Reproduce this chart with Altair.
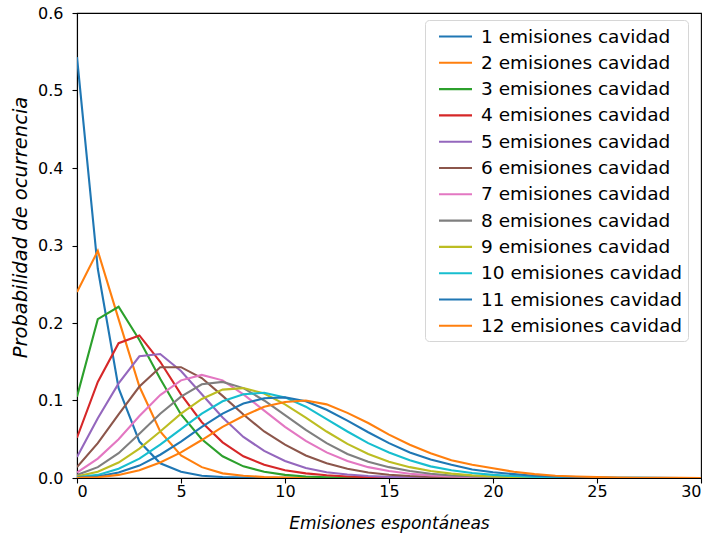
import altair as alt
import pandas as pd

# Number of spontaneous emissions (x axis)
emisiones = list(range(31))

# Probability of each count, one list per number of cavity emissions
p01 = [0.543, 0.27, 0.116, 0.047, 0.019, 0.008, 0.003, 0.0012, 0.0005, 0.0002, 0.0001] + [0.0] * 20
p02 = [0.24, 0.293, 0.205, 0.118, 0.06, 0.029, 0.014, 0.006, 0.003, 0.0012, 0.0005, 0.0002, 0.0001] + [0.0] * 18
p03 = [0.105, 0.205, 0.221, 0.178, 0.128, 0.082, 0.05, 0.028, 0.015, 0.008, 0.004, 0.002, 0.001, 0.0005, 0.0002] + [0.0] * 16
p04 = [0.052, 0.124, 0.174, 0.184, 0.15, 0.108, 0.072, 0.046, 0.028, 0.017, 0.01, 0.006, 0.0035, 0.002, 0.001,
       0.0005, 0.0003, 0.0001] + [0.0] * 13
p05 = [0.027, 0.077, 0.122, 0.157, 0.16, 0.138, 0.108, 0.078, 0.053, 0.035, 0.022, 0.013, 0.0075, 0.0045, 0.0025,
       0.0014, 0.0008, 0.0004, 0.0002, 0.0001] + [0.0] * 11
p06 = [0.014, 0.045, 0.082, 0.118, 0.143, 0.143, 0.129, 0.106, 0.082, 0.06, 0.043, 0.029, 0.019, 0.012, 0.007,
       0.0042, 0.0025, 0.0015, 0.0009, 0.0005, 0.0003, 0.0002, 0.0001] + [0.0] * 8
p07 = [0.007, 0.025, 0.05, 0.08, 0.107, 0.126, 0.133, 0.126, 0.108, 0.087, 0.066, 0.048, 0.033, 0.022, 0.014,
       0.009, 0.0055, 0.0034, 0.002, 0.0012, 0.0007, 0.0004, 0.0002, 0.0001, 0.0] + [0.0] * 6
p08 = [0.004, 0.014, 0.032, 0.057, 0.083, 0.105, 0.121, 0.124, 0.116, 0.1, 0.081, 0.062, 0.045, 0.031, 0.021,
       0.014, 0.009, 0.0055, 0.0033, 0.002, 0.0012, 0.0007, 0.0004, 0.0002, 0.0001] + [0.0] * 6
p09 = [0.002, 0.008, 0.02, 0.038, 0.06, 0.083, 0.102, 0.114, 0.116, 0.109, 0.095, 0.078, 0.06, 0.044, 0.031,
       0.021, 0.014, 0.009, 0.0056, 0.0034, 0.002, 0.0012, 0.0007, 0.0004, 0.0002, 0.0001] + [0.0] * 5
p10 = [0.001, 0.004, 0.012, 0.025, 0.043, 0.063, 0.083, 0.099, 0.108, 0.11, 0.104, 0.092, 0.076, 0.06, 0.045,
       0.033, 0.023, 0.015, 0.01, 0.0065, 0.004, 0.0025, 0.0015, 0.0009, 0.0005, 0.0003, 0.0002, 0.0001] + [0.0] * 3
p11 = [0.0005, 0.002, 0.007, 0.016, 0.03, 0.047, 0.066, 0.083, 0.096, 0.103, 0.104, 0.099, 0.088, 0.074, 0.059,
       0.045, 0.033, 0.024, 0.017, 0.011, 0.0075, 0.005, 0.003, 0.002, 0.0012, 0.0007, 0.0004, 0.0002, 0.0001, 0.0, 0.0]
p12 = [0.0003, 0.001, 0.004, 0.01, 0.02, 0.033, 0.049, 0.066, 0.08, 0.092, 0.098, 0.1, 0.095, 0.084, 0.071,
       0.056, 0.043, 0.032, 0.023, 0.017, 0.0125, 0.008, 0.005, 0.003, 0.002, 0.0012, 0.0007, 0.0004, 0.0002, 0.0001, 0.0]

series = [p01, p02, p03, p04, p05, p06, p07, p08, p09, p10, p11, p12]
etiquetas = [f"{k} emisiones cavidad" for k in range(1, 13)]
colores = ["#1f77b4", "#ff7f0e", "#2ca02c", "#d62728", "#9467bd", "#8c564b",
           "#e377c2", "#7f7f7f", "#bcbd22", "#17becf", "#1f77b4", "#ff7f0e"]

filas = []
for orden, (etq, vals) in enumerate(zip(etiquetas, series)):
    for n, v in zip(emisiones, vals):
        filas.append({"n": n, "p": v, "serie": etq, "orden": orden})
df = pd.DataFrame(filas)

FONT = "DejaVu Sans"

eje_comun = dict(grid=False, domainColor="black", tickColor="black", labelColor="#000",
                 titleColor="#000", labelFont=FONT, titleFont=FONT, labelFontSize=16,
                 tickSize=5, tickWidth=1.1, domainWidth=1.1,
                 titleFontStyle="italic", titleFontWeight="normal")

chart = alt.Chart(df).mark_line(strokeWidth=2.1, clip=True).encode(
    x=alt.X("n:Q", scale=alt.Scale(domain=[0, 30], nice=False),
            axis=alt.Axis(title="Emisiones espontáneas", values=[0, 5, 10, 15, 20, 25, 30],
                          format="d", labelPadding=0, titlePadding=16, titleFontSize=17,
                          **eje_comun)),
    y=alt.Y("p:Q", scale=alt.Scale(domain=[0, 0.6], nice=False),
            axis=alt.Axis(title="Probabilidad de ocurrencia", values=[0, 0.1, 0.2, 0.3, 0.4, 0.5, 0.6],
                          format=".1f", labelPadding=9, titlePadding=7, titleFontSize=19.5,
                          titleY=214, **eje_comun)),
    color=alt.Color("serie:N", sort=etiquetas,
                    scale=alt.Scale(domain=etiquetas, range=colores),
                    legend=alt.Legend(title=None, orient="none", legendX=348, legendY=7,
                                      symbolType="M-1.65,0H1.65", symbolStrokeWidth=2.1,
                                      symbolSize=400, symbolOffset=14,
                                      labelFontSize=18.5, labelFont=FONT, labelColor="#000",
                                      labelOffset=14, rowPadding=5.3, padding=5,
                                      strokeColor="#d6d6d6", fillColor="white",
                                      cornerRadius=4, labelLimit=400)),
    order=alt.Order("orden:Q"),
    detail="orden:N",
).properties(
    width=624, height=465,
    background="white",
    autosize=alt.AutoSizeParams(type="none"),
    padding={"left": 77, "top": 13, "right": 10, "bottom": 59},
).configure_view(
    stroke="black", strokeWidth=1.1
)

chart.save("out.html", embed_options={"renderer": "svg", "actions": False})
